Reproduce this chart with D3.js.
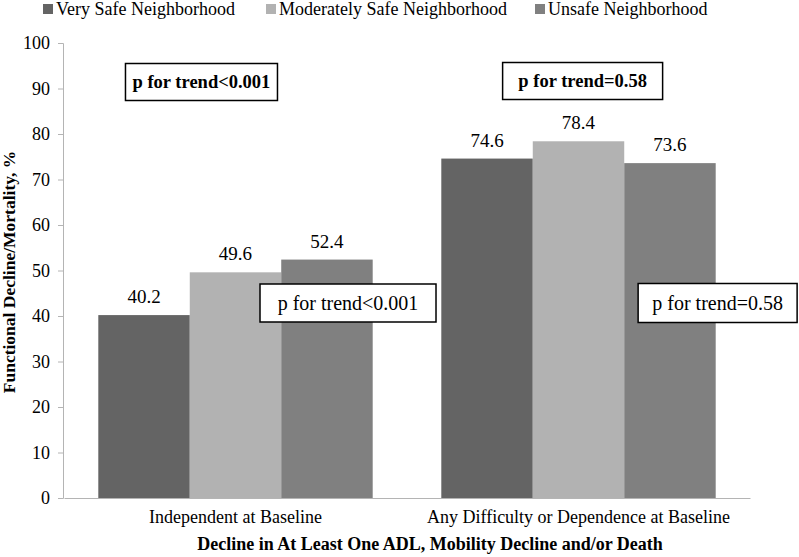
<!DOCTYPE html>
<html>
<head>
<meta charset="utf-8">
<script src="https://cdn.jsdelivr.net/npm/d3@7"></script>
<style>
  body { margin: 0; background: #fff; }
  svg text { font-family: "Liberation Serif", "DejaVu Serif", serif; }
</style>
</head>
<body>
<div id="chart"></div>
<script>
// data
var groups = ['Independent at Baseline', 'Any Difficulty or Dependence at Baseline'];
var seriesNames = ['Very Safe Neighborhood', 'Moderately Safe Neighborhood', 'Unsafe Neighborhood'];
var verySafe = [40.2, 74.6];
var moderatelySafe = [49.6, 78.4];
var unsafe = [52.4, 73.6];
var yTicks = [0, 10, 20, 30, 40, 50, 60, 70, 80, 90, 100];
var trendLabels = ['p for trend<0.001', 'p for trend=0.58'];

var colors = ['#646464', '#b2b2b2', '#808080'];
var serif = '"Liberation Serif", "DejaVu Serif", serif';

var width = 799, height = 557;
var margin = { top: 43, right: 49, bottom: 59, left: 64 };

var svg = d3.select('#chart').append('svg')
    .attr('width', width)
    .attr('height', height)
    .attr('font-family', serif);

var x0 = d3.scaleBand()
    .domain(groups)
    .range([margin.left, width - margin.right])
    .paddingInner(0.2)
    .paddingOuter(0.1);

var x1 = d3.scaleBand()
    .domain(seriesNames)
    .range([0, x0.bandwidth()]);

var y = d3.scaleLinear()
    .domain([0, 100])
    .range([height - margin.bottom, margin.top]);

var color = d3.scaleOrdinal().domain(seriesNames).range(colors);

// y axis
var yAxis = svg.append('g')
    .attr('transform', 'translate(' + (margin.left - 1) + ',0)')
    .call(d3.axisLeft(y).tickValues(yTicks).tickSize(5).tickPadding(8))
    .attr('font-family', serif)
    .attr('font-size', 18);
yAxis.select('.domain').attr('stroke', '#b4b4b4');
yAxis.selectAll('.tick line').attr('stroke', '#b4b4b4');
yAxis.selectAll('.tick text').attr('fill', '#000');

// x axis baseline
var xAxis = svg.append('g')
    .attr('transform', 'translate(0,' + y(0) + ')')
    .call(d3.axisBottom(x0).tickSize(0).tickPadding(12))
    .attr('font-family', serif)
    .attr('font-size', 18);
xAxis.select('.domain').attr('stroke', '#b4b4b4');
xAxis.selectAll('.tick text').attr('fill', '#000');

// bars
var rows = groups.map(function(g, i) {
    return [
        { group: g, key: seriesNames[0], value: verySafe[i] },
        { group: g, key: seriesNames[1], value: moderatelySafe[i] },
        { group: g, key: seriesNames[2], value: unsafe[i] }
    ];
});

var gGroup = svg.selectAll('g.grp')
    .data(rows)
    .enter().append('g')
    .attr('class', 'grp')
    .attr('transform', function(d) { return 'translate(' + x0(d[0].group) + ',0)'; });

gGroup.selectAll('rect')
    .data(function(d) { return d; })
    .enter().append('rect')
    .attr('x', function(d) { return x1(d.key); })
    .attr('y', function(d) { return y(d.value); })
    .attr('width', x1.bandwidth())
    .attr('height', function(d) { return y(0) - y(d.value); })
    .attr('fill', function(d) { return color(d.key); });

gGroup.selectAll('text.val')
    .data(function(d) { return d; })
    .enter().append('text')
    .attr('class', 'val')
    .attr('x', function(d) { return x1(d.key) + x1.bandwidth() / 2; })
    .attr('y', function(d) { return y(d.value) - 12; })
    .attr('text-anchor', 'middle')
    .attr('font-size', 19)
    .text(function(d) { return d.value.toFixed(1); });

// p-for-trend boxes
function trendBox(cx, cy, w, h, label, bold) {
    var g = svg.append('g');
    g.append('rect')
        .attr('x', cx - w / 2).attr('y', cy - h / 2)
        .attr('width', w).attr('height', h)
        .attr('fill', '#fff')
        .attr('stroke', '#000')
        .attr('stroke-width', 1.5);
    g.append('text')
        .attr('x', cx).attr('y', cy)
        .attr('dy', '0.35em')
        .attr('text-anchor', 'middle')
        .attr('font-size', bold ? 18.5 : 20)
        .attr('font-weight', bold ? 'bold' : 'normal')
        .text(label);
}
var gA = x0(groups[0]), gB = x0(groups[1]), bw = x0.bandwidth();
trendBox(gA + bw * 0.376, 82, 152, 37, trendLabels[0], true);
trendBox(gB + bw * 0.515, 81, 160, 37, trendLabels[1], true);
trendBox(gA + bw * 0.91, 303, 176, 38, trendLabels[0], false);
trendBox(gB + bw * 1.007, 303, 159, 39, trendLabels[1], false);

// legend
var legendX = [43, 266, 535];
var legend = svg.selectAll('g.leg')
    .data(seriesNames)
    .enter().append('g')
    .attr('class', 'leg')
    .attr('transform', function(d, i) { return 'translate(' + legendX[i] + ',4)'; });
legend.append('rect')
    .attr('width', 10).attr('height', 10)
    .attr('fill', function(d) { return color(d); });
legend.append('text')
    .attr('x', 13).attr('y', 5)
    .attr('dy', '0.35em')
    .attr('font-size', 18)
    .text(function(d) { return d; });

// axis titles
svg.append('text')
    .attr('transform', 'translate(9,' + 272 + ') rotate(-90)')
    .attr('text-anchor', 'middle')
    .attr('dy', '0.35em')
    .attr('font-size', 17.5)
    .attr('font-weight', 'bold')
    .text('Functional Decline/Mortality, %');

svg.append('text')
    .attr('x', 430)
    .attr('y', 550)
    .attr('text-anchor', 'middle')
    .attr('font-size', 18)
    .attr('font-weight', 'bold')
    .text('Decline in At Least One ADL, Mobility Decline and/or Death');
</script>
</body>
</html>
